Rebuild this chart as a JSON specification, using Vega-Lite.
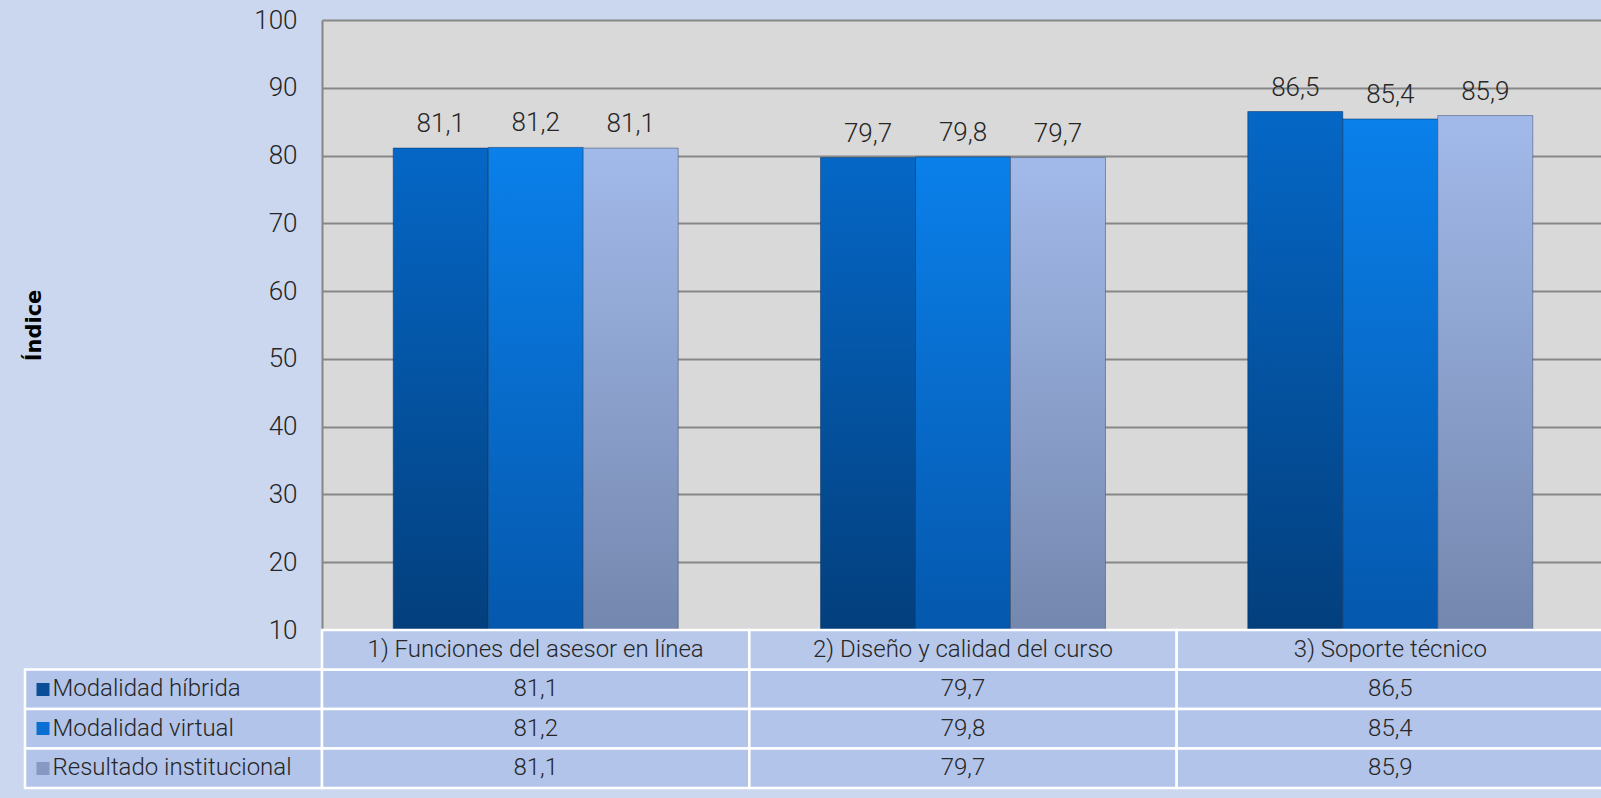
{
  "$schema": "https://vega.github.io/schema/vega-lite/v6.json",
  "background": "#cbd7ef",
  "padding": {"left": 23, "top": 7, "right": 0, "bottom": 10},
  "config": {
    "font": "Roboto",
    "view": {"stroke": null},
    "locale": {"number": {"decimal": ",", "thousands": ".", "grouping": [3], "currency": ["", " €"]}}
  },
  "datasets": {
    "d": [
      {"cat": "1) Funciones del asesor en línea", "serie": "Modalidad híbrida", "value": 81.1},
      {"cat": "1) Funciones del asesor en línea", "serie": "Modalidad virtual", "value": 81.2},
      {"cat": "1) Funciones del asesor en línea", "serie": "Resultado institucional", "value": 81.1},
      {"cat": "2) Diseño y calidad del curso", "serie": "Modalidad híbrida", "value": 79.7},
      {"cat": "2) Diseño y calidad del curso", "serie": "Modalidad virtual", "value": 79.8},
      {"cat": "2) Diseño y calidad del curso", "serie": "Resultado institucional", "value": 79.7},
      {"cat": "3) Soporte técnico", "serie": "Modalidad híbrida", "value": 86.5},
      {"cat": "3) Soporte técnico", "serie": "Modalidad virtual", "value": 85.4},
      {"cat": "3) Soporte técnico", "serie": "Resultado institucional", "value": 85.9}
    ],
    "empty": []
  },
  "columns": 2,
  "spacing": 0,
  "bounds": "flush",
  "concat": [
    {
      "width": 297,
      "height": 610,
      "data": {"name": "empty"},
      "mark": {"type": "point", "opacity": 0},
      "encoding": {}
    },
    {
      "width": 1282,
      "height": 610,
      "data": {"name": "d"},
      "view": {"fill": "#d9d9d9", "stroke": null},
      "encoding": {
        "x": {"field": "cat", "type": "nominal", "sort": null, "axis": null,
              "scale": {"domain": ["1) Funciones del asesor en línea", "2) Diseño y calidad del curso", "3) Soporte técnico"], "paddingInner": 0.333, "paddingOuter": 0.1667}},
        "xOffset": {"field": "serie", "type": "nominal", "sort": null,
              "scale": {"domain": ["Modalidad híbrida", "Modalidad virtual", "Resultado institucional"], "paddingInner": 0, "paddingOuter": 0}},
        "y": {"field": "value", "type": "quantitative",
              "scale": {"domain": [10, 100], "zero": false, "nice": false},
              "axis": {"values": [10, 20, 30, 40, 50, 60, 70, 80, 90, 100], "format": "d",
                       "title": "Índice", "titleFont": "DejaVu Sans", "titleFontWeight": "bold", "titleFontSize": 21, "titleColor": "#000000", "titlePadding": 209,
                       "labelFont": "Roboto", "labelFontWeight": 300, "labelFontSize": 26, "labelColor": "#262626", "labelPadding": 25,
                       "ticks": false, "domainColor": "#868686", "domainWidth": 2, "gridColor": "#878787", "gridWidth": 2}}
      },
      "layer": [
        {
          "transform": [{"filter": "datum.serie === 'Modalidad híbrida'"}],
          "mark": {"type": "bar", "stroke": "#06305e", "strokeOpacity": 0.5, "strokeWidth": 1,
                   "fill": {"gradient": "linear", "x1": 0, "y1": 0, "x2": 0, "y2": 1,
                            "stops": [{"offset": 0, "color": "#0567c6"}, {"offset": 1, "color": "#033f7d"}]}},
          "encoding": {"y2": {"datum": 10}}
        },
        {
          "transform": [{"filter": "datum.serie === 'Modalidad virtual'"}],
          "mark": {"type": "bar", "stroke": "#06305e", "strokeOpacity": 0.5, "strokeWidth": 1,
                   "fill": {"gradient": "linear", "x1": 0, "y1": 0, "x2": 0, "y2": 1,
                            "stops": [{"offset": 0, "color": "#0a80ea"}, {"offset": 1, "color": "#0558ad"}]}},
          "encoding": {"y2": {"datum": 10}}
        },
        {
          "transform": [{"filter": "datum.serie === 'Resultado institucional'"}],
          "mark": {"type": "bar", "stroke": "#3b4a6b", "strokeOpacity": 0.5, "strokeWidth": 1,
                   "fill": {"gradient": "linear", "x1": 0, "y1": 0, "x2": 0, "y2": 1,
                            "stops": [{"offset": 0, "color": "#a2baea"}, {"offset": 1, "color": "#7487ae"}]}},
          "encoding": {"y2": {"datum": 10}}
        },
        {
          "mark": {"type": "text", "baseline": "alphabetic", "dy": -16, "font": "Roboto", "fontWeight": 300, "fontSize": 26, "color": "#262626"},
          "encoding": {"text": {"field": "value", "type": "quantitative", "format": ".1f"}}
        }
      ]
    },
    {
      "width": 297,
      "height": 158,
      "data": {"name": "d"},
      "transform": [{"filter": "datum.cat === '1) Funciones del asesor en línea'"}],
      "encoding": {
        "y": {"field": "serie", "type": "nominal", "sort": null,
              "scale": {"domain": ["header", "Modalidad híbrida", "Modalidad virtual", "Resultado institucional"], "paddingInner": 0, "paddingOuter": 0},
              "axis": {"title": null, "domain": false, "grid": false, "offset": -24, "zindex": 1,
                       "tickSize": 13, "tickWidth": 13,
                       "tickColor": {"condition": [
                         {"test": "datum.value === 'Modalidad híbrida'", "value": "#0a4e98"},
                         {"test": "datum.value === 'Modalidad virtual'", "value": "#0a6fd0"},
                         {"test": "datum.value === 'Resultado institucional'", "value": "#8799c2"}
                       ], "value": "transparent"},
                       "labelExpr": "datum.value === 'header' ? '' : datum.value",
                       "labelAlign": "left", "labelPadding": -16, "labelLimit": 400,
                       "labelFont": "Roboto", "labelFontWeight": 300, "labelFontSize": 24, "labelColor": "#262626"}}
      },
      "layer": [
        {"mark": {"type": "rect", "fill": "#b2c4e9", "stroke": "#ffffff", "strokeWidth": 2.5}}
      ]
    },
    {
      "width": 1282,
      "height": 158,
      "data": {"name": "d"},
      "encoding": {
        "x": {"field": "cat", "type": "nominal", "sort": null, "axis": null,
              "scale": {"domain": ["1) Funciones del asesor en línea", "2) Diseño y calidad del curso", "3) Soporte técnico"], "paddingInner": 0, "paddingOuter": 0}}
      },
      "layer": [
        {
          "mark": {"type": "rect", "fill": "#b2c4e9", "stroke": "#ffffff", "strokeWidth": 2.5},
          "encoding": {"y": {"field": "serie", "type": "nominal", "sort": null, "axis": null,
                             "scale": {"domain": ["header", "Modalidad híbrida", "Modalidad virtual", "Resultado institucional"], "paddingInner": 0, "paddingOuter": 0}}}
        },
        {
          "transform": [{"filter": "datum.serie === 'Modalidad híbrida'"}],
          "mark": {"type": "rect", "fill": "#b7c8eb", "stroke": "#ffffff", "strokeWidth": 2.5},
          "encoding": {"y": {"datum": "header", "type": "nominal"}}
        },
        {
          "mark": {"type": "text", "baseline": "middle", "font": "Roboto", "fontWeight": 300, "fontSize": 24, "color": "#262626"},
          "encoding": {"y": {"field": "serie", "type": "nominal"},
                       "text": {"field": "value", "type": "quantitative", "format": ".1f"}}
        },
        {
          "transform": [{"filter": "datum.serie === 'Modalidad híbrida'"}],
          "mark": {"type": "text", "baseline": "middle", "font": "Roboto", "fontWeight": 300, "fontSize": 24, "color": "#262626"},
          "encoding": {"y": {"datum": "header", "type": "nominal"},
                       "text": {"field": "cat", "type": "nominal"}}
        }
      ]
    }
  ]
}
